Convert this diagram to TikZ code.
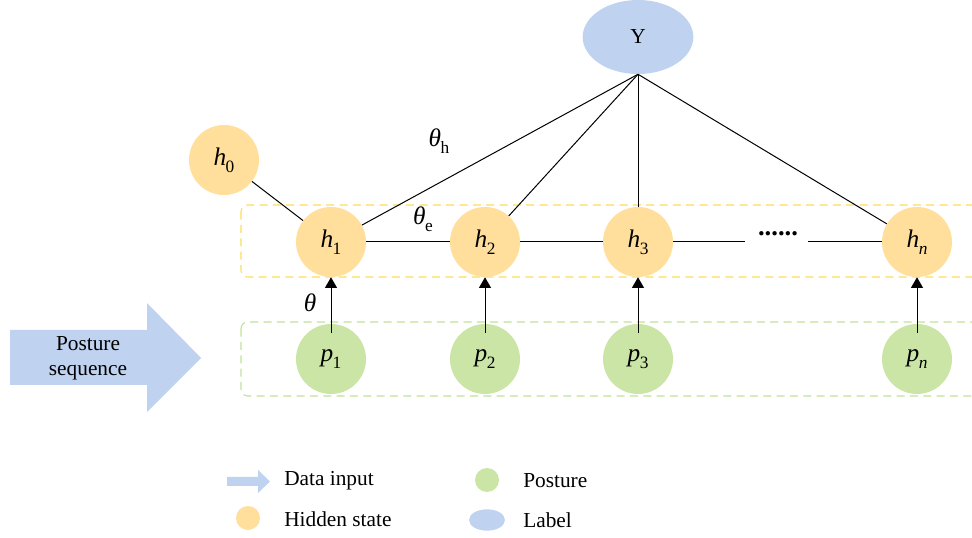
\documentclass[tikz,border=0pt]{standalone}
\usepackage{fontspec}
\setmainfont{Liberation Serif}
\usetikzlibrary{arrows.meta,shapes.geometric}
\definecolor{hid}{HTML}{FFDF9B}
\definecolor{pos}{HTML}{CAE5A6}
\definecolor{lab}{HTML}{BFD2EF}
\definecolor{ydash}{HTML}{FFDC5A}
\definecolor{gdash}{HTML}{BEE298}
\newcommand\varsub[2]{\textit{#1}\kern-0.02em\raisebox{-0.28em}{\fontsize{13}{13}\selectfont #2}}
\begin{document}
\begin{tikzpicture}[x=0.75pt,y=-0.75pt,
  font=\fontsize{16}{19}\selectfont,
  mfont/.style={font=\fontsize{19}{22}\selectfont},
  hstate/.style={circle,fill=hid,minimum size=52.5pt,inner sep=0pt,mfont},
  pstate/.style={circle,fill=pos,minimum size=52.5pt,inner sep=0pt,mfont},
  link/.style={draw=black,line width=0.75pt},
  arr/.style={link,-{Triangle[width=9pt,length=8pt]}},
  dbox/.style={dash pattern=on 6pt off 4pt,line width=0.8pt,rounded corners=5pt},
  lbl/.style={anchor=west,inner sep=0pt}]
\useasboundingbox (0,0) rectangle (972,538);
\clip (0,0) rectangle (972,538);
% dashed groups
\draw[dbox,draw=ydash] (241,205) rectangle (990,277);
\draw[dbox,draw=gdash] (241,322) rectangle (990,396);
% nodes
\node[ellipse,fill=lab,minimum width=83pt,minimum height=55.5pt,inner sep=0pt] (Y) at (638,37) {Y};
\node[hstate] (h0) at (224,160) {\varsub{h}{0}};
\node[hstate] (h1) at (331,242) {\varsub{h}{1}};
\node[hstate] (h2) at (485,242) {\varsub{h}{2}};
\node[hstate] (h3) at (638,242) {\varsub{h}{3}};
\node[hstate] (hn) at (917,242) {\varsub{h}{\textit{n}}};
\node[pstate] (p1) at (331,359) {\varsub{p}{1}};
\node[pstate] (p2) at (485,359) {\varsub{p}{2}};
\node[pstate] (p3) at (638,359) {\varsub{p}{3}};
\node[pstate] (pn) at (917,359) {\varsub{p}{\textit{n}}};
% connectors
\draw[link] (h0) -- (h1);
\draw[link] (h1) -- (h2);
\draw[link] (h2) -- (h3);
\coordinate (d1) at (745,242);
\coordinate (d2) at (808,242);
\draw[link] (h3.east) -- (d1);
\node[font=\fontsize{20}{24}\selectfont\bfseries] (dots) at (778,234) {......};
\draw[link] (d2) -- (hn.west);
\draw[link] (Y.south) -- (h1);
\draw[link] (Y.south) -- (h2);
\draw[link] (Y.south) -- (h3);
\draw[link] (Y.south) -- (hn);
\foreach \i in {1,2,3,n}{
  \draw[arr] ([yshift=-7pt]p\i.north) -- (h\i.south);
}
% labels
\node[mfont] (th) at (439,141) {\varsub{θ}{h}};
\node[mfont] (te) at (423,219) {\varsub{θ}{e}};
\node[mfont] (t) at (310,303) {\textit{θ}};
% big input arrow
\fill[lab] (10,330) -- (147,330) -- (147,303) -- (201,358) -- (147,412) -- (147,385) -- (10,385) -- cycle;
\node[align=center,font=\fontsize{16}{19}\selectfont] (ps) at (88,358) {Posture\\sequence};
% legend
\fill[lab] (227,477) -- (258,477) -- (258,470) -- (270,481.5) -- (258,493) -- (258,486) -- (227,486) -- cycle;
\node[lbl] (l1) at (284,481) {Data input};
\node[circle,fill=hid,minimum size=18pt,inner sep=0pt] (lh) at (248,518) {};
\node[lbl] (l2) at (284,519) {Hidden state};
\node[circle,fill=pos,minimum size=18pt,inner sep=0pt] (lp) at (487,480) {};
\node[lbl] (l3) at (523,481) {Posture};
\node[ellipse,fill=lab,minimum width=27pt,minimum height=16pt,inner sep=0pt] (ll) at (487,520) {};
\node[lbl] (l4) at (523,520) {Label};
\end{tikzpicture}
\end{document}
